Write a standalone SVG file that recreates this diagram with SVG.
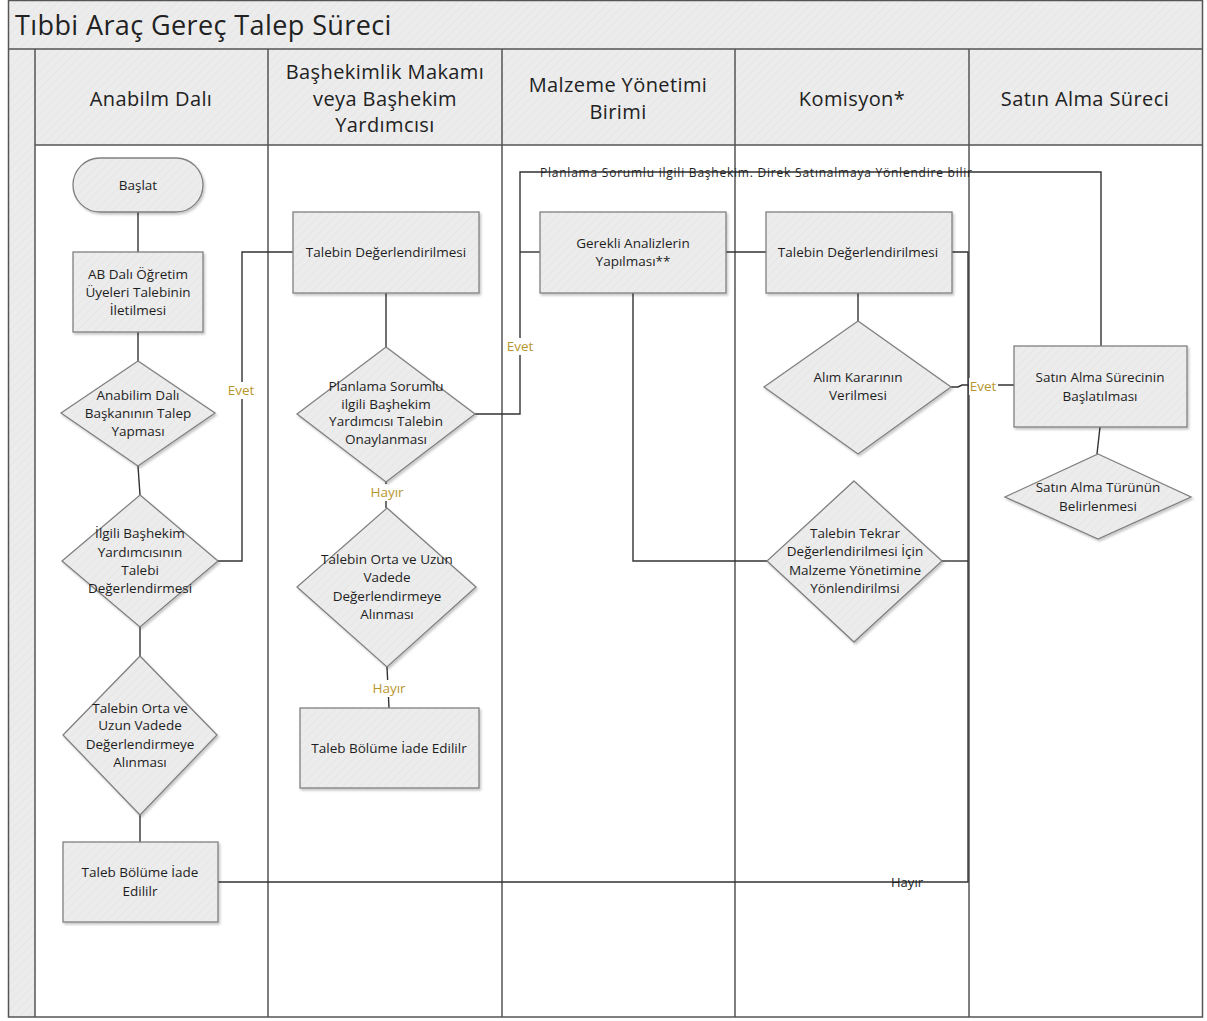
<svg xmlns="http://www.w3.org/2000/svg" width="1207" height="1021" viewBox="0 0 1207 1021">
<defs>
<pattern id="hatch" patternUnits="userSpaceOnUse" width="6" height="6" patternTransform="rotate(45)">
<rect width="6" height="6" fill="#ececec"/>
<line x1="0" y1="0" x2="0" y2="6" stroke="#e2e2e2" stroke-width="1.2"/>
</pattern>
<filter id="sh" x="-10%" y="-10%" width="130%" height="130%">
<feDropShadow dx="1.5" dy="2" stdDeviation="1.2" flood-color="#000" flood-opacity="0.22"/>
</filter>
<style>
.node{fill:url(#hatch);stroke:#808080;stroke-width:1.3;filter:url(#sh)}
.t{font-family:"Open Sans","Noto Sans",sans-serif;font-size:13.5px;fill:#1e1e1e;text-anchor:middle;dominant-baseline:central}
.h{font-family:"Open Sans","Noto Sans",sans-serif;font-size:20px;letter-spacing:0.4px;fill:#222;text-anchor:middle;dominant-baseline:central}
.lbl{font-family:"Open Sans","Noto Sans",sans-serif;font-size:13.5px;fill:#b8962e;text-anchor:middle;dominant-baseline:central}
.blk{font-family:"Open Sans","Noto Sans",sans-serif;font-size:12px;fill:#1e1e1e;dominant-baseline:central}
.c{fill:none;stroke:#333;stroke-width:1.4}
.lane{stroke:#555;stroke-width:1.5;fill:none}
</style>
</defs>
<rect x="0" y="0" width="1207" height="1021" fill="#fff"/>
<g id="pool">
<rect x="8.5" y="0.5" width="1194" height="48.5" fill="url(#hatch)"/>
<rect x="8.5" y="49" width="26.5" height="968" fill="url(#hatch)"/>
<rect x="35" y="49" width="1167.5" height="96" fill="url(#hatch)"/>
<text x="15" y="24" font-family="'Open Sans','Noto Sans',sans-serif" font-size="27" letter-spacing="0.4" fill="#222" dominant-baseline="central">Tıbbi Araç Gereç Talep Süreci</text>
<rect x="8.5" y="0.5" width="1194" height="1016.5" class="lane"/>
<line x1="8.5" y1="49" x2="1202.5" y2="49" class="lane"/>
<line x1="35" y1="145" x2="1202.5" y2="145" class="lane"/>
<line x1="35" y1="49" x2="35" y2="1017" class="lane"/>
<line x1="268" y1="49" x2="268" y2="1017" class="lane"/>
<line x1="502" y1="49" x2="502" y2="1017" class="lane"/>
<line x1="735" y1="49" x2="735" y2="1017" class="lane"/>
<line x1="969" y1="49" x2="969" y2="1017" class="lane"/>
<text class="h" x="151" y="98">Anabilm Dalı</text>
<text class="h" x="385" y="71">Başhekimlik Makamı</text>
<text class="h" x="385" y="98">veya Başhekim</text>
<text class="h" x="385" y="124">Yardımcısı</text>
<text class="h" x="618" y="84">Malzeme Yönetimi</text>
<text class="h" x="618" y="111">Birimi</text>
<text class="h" x="852" y="98">Komisyon*</text>
<text class="h" x="1085" y="98">Satın Alma Süreci</text>
</g>
<g id="connectors">
<path class="c" d="M138 212 V252"/>
<path class="c" d="M138 332 V361"/>
<path class="c" d="M138 466 L140 495"/>
<path class="c" d="M140 627 V656"/>
<path class="c" d="M140 815 V842"/>
<path class="c" d="M218 561 H242 V252 H293"/>
<path class="c" d="M386 293 V347"/>
<path class="c" d="M386 482 V508"/>
<path class="c" d="M387 667 L389 708"/>
<path class="c" d="M475 414 H520 V172 H1101 V346"/>
<path class="c" d="M520 252 H540"/>
<path class="c" d="M726 252 H766"/>
<path class="c" d="M858 293 V321"/>
<path class="c" d="M951 387 H958 L962 385 H1014"/>
<path class="c" d="M1100 427 L1097 454"/>
<path class="c" d="M633 293 V561 H767"/>
<path class="c" d="M952 252 H968 V882 H218"/>
<path class="c" d="M942 561 H968"/>
<rect x="226" y="382" width="31" height="17" fill="#fff"/>
<text class="lbl" x="241" y="390">Evet</text>
<rect x="505" y="338" width="31" height="17" fill="#fff"/>
<text class="lbl" x="520" y="346">Evet</text>
<rect x="969" y="378" width="29" height="17" fill="#fff"/>
<text class="lbl" x="983" y="386">Evet</text>
<rect x="370" y="484" width="35" height="17" fill="#fff"/>
<text class="lbl" x="387" y="492">Hayır</text>
<rect x="372" y="680" width="35" height="17" fill="#fff"/>
<text class="lbl" x="389" y="688">Hayır</text>
<text class="blk" x="891" y="882" textLength="32" lengthAdjust="spacingAndGlyphs">Hayır</text>
<text class="blk" x="540" y="172" textLength="432" lengthAdjust="spacing">Planlama Sorumlu ilgili Başhekim. Direk Satınalmaya Yönlendire bilir</text>
</g>
<g id="n1"><rect class="node" x="73" y="158" width="130" height="54" rx="27"/><text class="t" x="138" y="185">Başlat</text></g>
<g id="n2"><rect class="node" x="73" y="252" width="130" height="80"/><text class="t" x="138" y="274">AB Dalı Öğretim</text><text class="t" x="138" y="292">Üyeleri Talebinin</text><text class="t" x="138" y="310">İletilmesi</text></g>
<g id="n3"><polygon class="node" points="138,361 215,413 138,466 61,413"/><text class="t" x="138" y="395">Anabilim Dalı</text><text class="t" x="138" y="413">Başkanının Talep</text><text class="t" x="138" y="431">Yapması</text></g>
<g id="n4"><polygon class="node" points="140,495 218,561 140,627 62,561"/><text class="t" x="140" y="533">İlgili Başhekim</text><text class="t" x="140" y="552">Yardımcısının</text><text class="t" x="140" y="570">Talebi</text><text class="t" x="140" y="588">Değerlendirmesi</text></g>
<g id="n5"><polygon class="node" points="140,656 217,735 140,815 63,735"/><text class="t" x="140" y="708">Talebin Orta ve</text><text class="t" x="140" y="725">Uzun Vadede</text><text class="t" x="140" y="744">Değerlendirmeye</text><text class="t" x="140" y="762">Alınması</text></g>
<g id="n6"><rect class="node" x="63" y="842" width="155" height="80"/><text class="t" x="140" y="872">Taleb Bölüme İade</text><text class="t" x="140" y="891">Edililr</text></g>
<g id="n7"><rect class="node" x="293" y="212" width="186" height="81"/><text class="t" x="386" y="252">Talebin Değerlendirilmesi</text></g>
<g id="n8"><polygon class="node" points="386,347 475,414 386,482 297,414"/><text class="t" x="386" y="386">Planlama Sorumlu</text><text class="t" x="386" y="404">ilgili Başhekim</text><text class="t" x="386" y="421">Yardımcısı Talebin</text><text class="t" x="386" y="439">Onaylanması</text></g>
<g id="n9"><polygon class="node" points="387,508 476,587 387,667 297,587"/><text class="t" x="387" y="559">Talebin Orta ve Uzun</text><text class="t" x="387" y="577">Vadede</text><text class="t" x="387" y="596">Değerlendirmeye</text><text class="t" x="387" y="614">Alınması</text></g>
<g id="n10"><rect class="node" x="300" y="708" width="179" height="80"/><text class="t" x="389" y="748">Taleb Bölüme İade Edililr</text></g>
<g id="n11"><rect class="node" x="540" y="212" width="186" height="81"/><text class="t" x="633" y="243">Gerekli  Analizlerin</text><text class="t" x="633" y="261">Yapılması**</text></g>
<g id="n12"><rect class="node" x="766" y="212" width="186" height="81"/><text class="t" x="858" y="252">Talebin Değerlendirilmesi</text></g>
<g id="n13"><polygon class="node" points="858,321 951,387 858,454 764,387"/><text class="t" x="858" y="377">Alım Kararının</text><text class="t" x="858" y="395">Verilmesi</text></g>
<g id="n14"><polygon class="node" points="854,481 942,561 854,642 767,561"/><text class="t" x="855" y="533">Talebin Tekrar</text><text class="t" x="855" y="551">Değerlendirilmesi İçin</text><text class="t" x="855" y="570">Malzeme Yönetimine</text><text class="t" x="855" y="588">Yönlendirilmsi</text></g>
<g id="n15"><rect class="node" x="1014" y="346" width="173" height="81"/><text class="t" x="1100" y="377">Satın Alma Sürecinin</text><text class="t" x="1100" y="396">Başlatılması</text></g>
<g id="n16"><polygon class="node" points="1098,454 1191,497 1098,539 1005,497"/><text class="t" x="1098" y="487">Satın Alma Türünün</text><text class="t" x="1098" y="506">Belirlenmesi</text></g>
</svg>
